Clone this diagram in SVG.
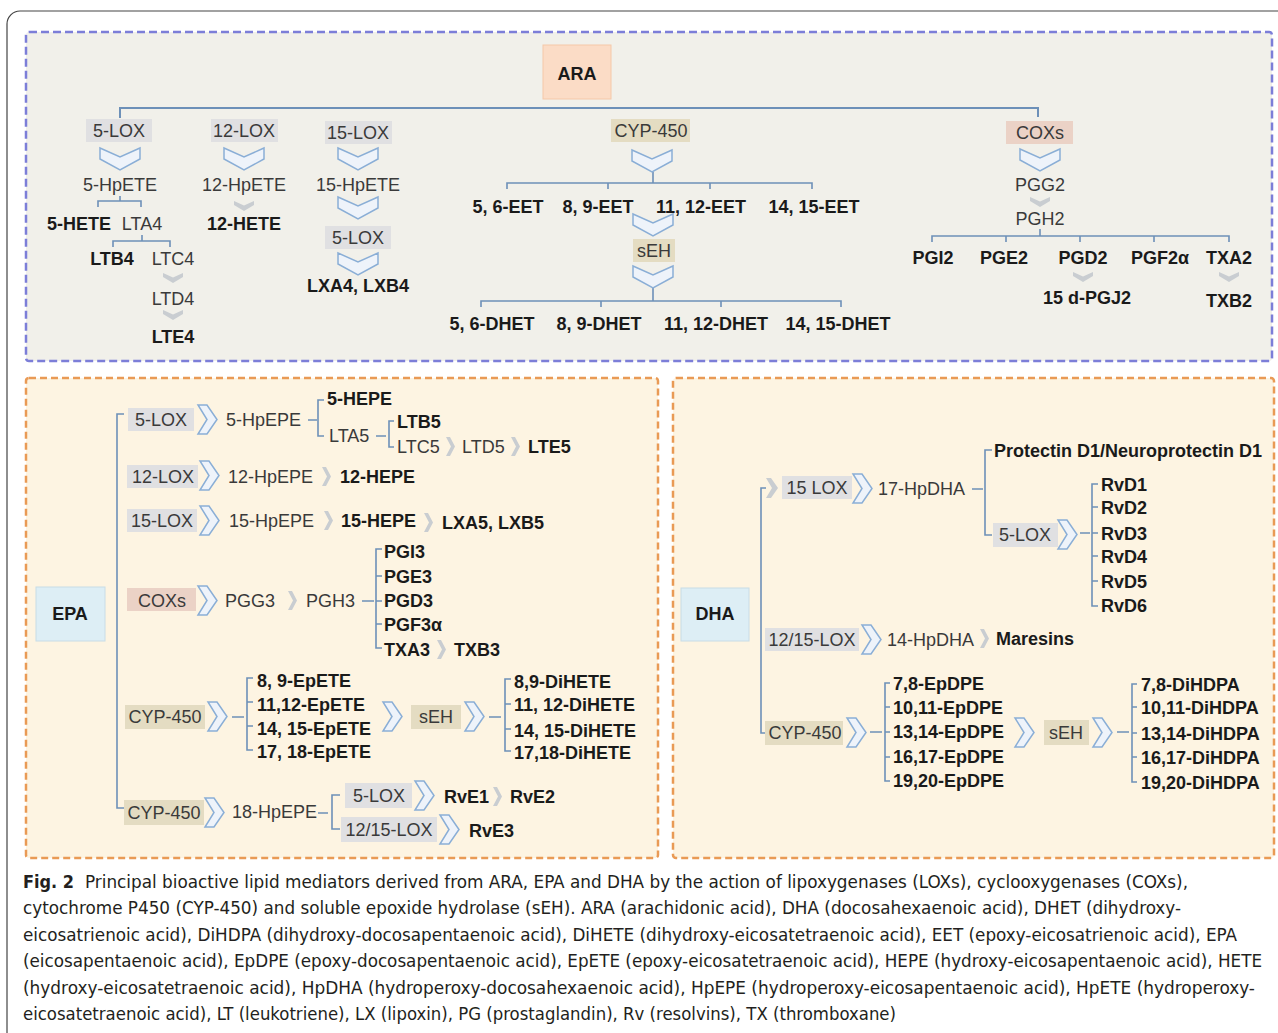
<svg xmlns="http://www.w3.org/2000/svg" xmlns:xlink="http://www.w3.org/1999/xlink" width="1278" height="1033" viewBox="0 0 1278 1033">
<style>
text{font-family:"Liberation Sans",Arial,sans-serif;font-size:18px;fill:#3a3a3a}
.b{font-weight:bold;fill:#1a1a1a}
.c{text-anchor:middle}
.ln{fill:none;stroke:#6d90b8;stroke-width:1.6}
.main{fill:none;stroke:#6d90b8;stroke-width:2}
.gray{fill:#e0e0e2}
.tan{fill:#e4dcc2}
.pink{fill:#ebd2c6}
.cap{font-family:"DejaVu Sans Condensed","Liberation Sans Narrow","Liberation Sans",sans-serif;font-size:18px;fill:#231f20}
</style>
<defs>
<polygon id="cd" points="-20,0 0,9 20,0 20,11 0,22 -20,11" fill="#eef3fa" stroke="#8aaed6" stroke-width="1.5"/>
<polygon id="cr" points="0,0 9,0 19,14.5 9,29 0,29 9,14.5" fill="#eef3fa" stroke="#8aaed6" stroke-width="1.5"/>
<polygon id="gd" points="-10,0 0,4.5 10,0 10,4 0,10 -10,4" fill="#c9cdd1"/>
<polygon id="gr" points="0,0 4,0 9,9.5 4,19 0,19 5,9.5" fill="#c9cdd1"/>
</defs>
<rect width="1278" height="1033" fill="#ffffff"/>
<path d="M1278,11 H20 A13,13 0 0 0 7,24 V1033" fill="none" stroke="#444" stroke-width="1.2"/>

<g id="panel-ara">
<rect x="26" y="32" width="1246" height="329" rx="3" fill="#f1f0ea" stroke="#7c7ed8" stroke-width="2.5" stroke-dasharray="8,4"/>
</g>
<g id="panel-epa">
<rect x="26" y="378" width="632" height="480" rx="3" fill="#fdf4e2" stroke="#e99a55" stroke-width="2.5" stroke-dasharray="7,4"/>
</g>
<g id="panel-dha">
<rect x="673" y="378" width="601" height="480" rx="3" fill="#fdf4e2" stroke="#e99a55" stroke-width="2.5" stroke-dasharray="7,4"/>
</g>

<g id="connectors">
<path class="main" d="M120,118 V108 H1038 V117"/>
<path class="ln" d="M120,196 V201 M98,207 V201 H141 V207"/>
<path class="ln" d="M142,235 V241 M113,247 V241 H170 V247"/>
<path class="ln" d="M653,172 V183 M507,189 V183 H812 V189 M608,183 V189 M710,183 V189"/>
<path class="ln" d="M653,288 V301 M481,307 V301 H841 V307 M601,301 V307 M721,301 V307"/>
<path class="ln" d="M1040,229 V236 M932,242 V236 H1229 V242 M1006,236 V242 M1080,236 V242 M1154,236 V242"/>
<path class="ln" d="M124,414 H117 V808 H125"/>
<path class="ln" d="M308,420 H317 M324,400 H318 V436 H324"/>
<path class="ln" d="M376,436 H386 M394,421 H389 V447 H394"/>
<path class="ln" d="M362,601 H374 M382,549 H376 V648 H382 M376,576 H382 M376,601 H382 M376,624 H382"/>
<path class="ln" d="M232,717 H244 M253,678 H247 V750 H253 M247,702 H253 M247,726 H253"/>
<path class="ln" d="M489,717 H501 M511,679 H505 V751 H511 M505,704 H511 M505,729 H511"/>
<path class="ln" d="M318,813 H328 M340,795 H332 V829 H340"/>
<path class="ln" d="M766,488 H761 V733 H766"/>
<path class="ln" d="M972,489 H983 M992,450 H985 V535 H992"/>
<path class="ln" d="M1080,533 H1090 M1098,484 H1092 V606 H1098 M1092,507 H1098 M1092,533 H1098 M1092,556 H1098 M1092,581 H1098"/>
<path class="ln" d="M870,732 H882 M890,683 H885 V781 H890 M885,707 H890 M885,732 H890 M885,757 H890"/>
<path class="ln" d="M1117,732 H1129 M1137,684 H1132 V782 H1137 M1132,707 H1137 M1132,733 H1137 M1132,757 H1137"/>
<use href="#cd" x="120" y="148"/><use href="#cd" x="244" y="148"/><use href="#cd" x="358" y="148"/>
<use href="#cd" x="358" y="197"/><use href="#cd" x="358" y="253"/><use href="#cd" x="652" y="150"/>
<use href="#cd" x="653" y="214"/><use href="#cd" x="653" y="266"/><use href="#cd" x="1040" y="149"/>
<use href="#gd" x="173" y="273"/><use href="#gd" x="173" y="310"/><use href="#gd" x="244" y="201"/>
<use href="#gd" x="1040" y="197"/><use href="#gd" x="1083" y="272"/><use href="#gd" x="1229" y="272"/>
<use href="#cr" x="198" y="405"/><use href="#cr" x="200" y="461"/><use href="#cr" x="200" y="506"/>
<use href="#cr" x="198" y="586"/><use href="#cr" x="208" y="702"/><use href="#cr" x="383" y="702"/>
<use href="#cr" x="465" y="702"/><use href="#cr" x="205" y="798"/><use href="#cr" x="415" y="781"/>
<use href="#cr" x="440" y="815"/>
<use href="#cr" x="853" y="474"/><use href="#cr" x="1058" y="520"/><use href="#cr" x="862" y="625"/>
<use href="#cr" x="847" y="718"/><use href="#cr" x="1015" y="718"/><use href="#cr" x="1093" y="718"/>
<use href="#gr" x="446" y="437"/><use href="#gr" x="511" y="437"/><use href="#gr" x="322" y="467"/>
<use href="#gr" x="324" y="511"/><use href="#gr" x="424" y="513"/><use href="#gr" x="288" y="591"/>
<use href="#gr" x="437" y="640"/><use href="#gr" x="493" y="787"/><use href="#gr" x="980" y="629"/>
<polygon points="766,478 771,478 778,488 771,498 766,498 772,488" fill="#c9cdd1"/>
</g>

<g id="ara"><rect x="543" y="45" width="68" height="54" fill="#fbdcc6" stroke="#f5c8a8"/><text class="b c" x="577" y="80">ARA</text></g>
<g id="ara-5lox"><rect class="gray" x="86" y="119" width="66" height="23"/><text class="c" x="119" y="137">5-LOX</text></g>
<g id="ara-12lox"><rect class="gray" x="211" y="119" width="67" height="23"/><text class="c" x="244" y="137">12-LOX</text></g>
<g id="ara-15lox"><rect class="gray" x="325" y="121" width="67" height="23"/><text class="c" x="358" y="139">15-LOX</text></g>
<g id="ara-cyp"><rect class="tan" x="611" y="119" width="79" height="23"/><text class="c" x="651" y="137">CYP-450</text></g>
<g id="ara-cox"><rect class="pink" x="1006" y="121" width="67" height="23"/><text class="c" x="1040" y="139">COXs</text></g>
<g id="hpete5"><text class="c" x="120" y="191">5-HpETE</text></g>
<g id="hpete12"><text class="c" x="244" y="191">12-HpETE</text></g>
<g id="hpete15"><text class="c" x="358" y="191">15-HpETE</text></g>
<g id="hete5"><text class="b c" x="79" y="230">5-HETE</text></g>
<g id="lta4"><text class="c" x="142" y="230">LTA4</text></g>
<g id="hete12"><text class="b c" x="244" y="230">12-HETE</text></g>
<g id="ltb4"><text class="b c" x="112" y="265">LTB4</text></g>
<g id="ltc4"><text class="c" x="173" y="265">LTC4</text></g>
<g id="ltd4"><text class="c" x="173" y="305">LTD4</text></g>
<g id="lte4"><text class="b c" x="173" y="343">LTE4</text></g>
<g id="ara-5lox-b"><rect class="gray" x="325" y="226" width="66" height="23"/><text class="c" x="358" y="244">5-LOX</text></g>
<g id="lxa4"><text class="b c" x="358" y="292">LXA4, LXB4</text></g>
<g id="eets"><text class="b c" x="508" y="213">5, 6-EET</text><text class="b c" x="598" y="213">8, 9-EET</text><text class="b c" x="701" y="213">11, 12-EET</text><text class="b c" x="814" y="213">14, 15-EET</text></g>
<g id="ara-seh"><rect class="tan" x="633" y="239" width="42" height="23"/><text class="c" x="654" y="257">sEH</text></g>
<g id="dhets"><text class="b c" x="492" y="330">5, 6-DHET</text><text class="b c" x="599" y="330">8, 9-DHET</text><text class="b c" x="716" y="330">11, 12-DHET</text><text class="b c" x="838" y="330">14, 15-DHET</text></g>
<g id="pgg2"><text class="c" x="1040" y="191">PGG2</text></g>
<g id="pgh2"><text class="c" x="1040" y="225">PGH2</text></g>
<g id="pgs2"><text class="b c" x="933" y="264">PGI2</text><text class="b c" x="1004" y="264">PGE2</text><text class="b c" x="1083" y="264">PGD2</text><text class="b c" x="1160" y="264">PGF2α</text><text class="b c" x="1229" y="264">TXA2</text></g>
<g id="pgj2"><text class="b c" x="1087" y="304">15 d-PGJ2</text></g>
<g id="txb2"><text class="b c" x="1229" y="307">TXB2</text></g>

<g id="epa"><rect x="36" y="587" width="69" height="54" fill="#ddeef5" stroke="#c8dce6"/><text class="b c" x="70" y="620">EPA</text></g>
<g id="epa-5lox"><rect class="gray" x="128" y="408" width="66" height="23"/><text class="c" x="161" y="426">5-LOX</text></g>
<g id="hpepe5"><text x="226" y="426">5-HpEPE</text></g>
<g id="hepe5"><text class="b" x="327" y="405">5-HEPE</text></g>
<g id="lta5"><text x="329" y="442">LTA5</text></g>
<g id="ltb5"><text class="b" x="397" y="428">LTB5</text></g>
<g id="ltc5"><text x="397" y="453">LTC5</text></g>
<g id="ltd5"><text x="462" y="453">LTD5</text></g>
<g id="lte5"><text class="b" x="528" y="453">LTE5</text></g>
<g id="epa-12lox"><rect class="gray" x="127" y="465" width="71" height="23"/><text class="c" x="163" y="483">12-LOX</text></g>
<g id="hpepe12"><text x="228" y="483">12-HpEPE</text></g>
<g id="hepe12"><text class="b" x="340" y="483">12-HEPE</text></g>
<g id="epa-15lox"><rect class="gray" x="127" y="509" width="70" height="23"/><text class="c" x="162" y="527">15-LOX</text></g>
<g id="hpepe15"><text x="229" y="527">15-HpEPE</text></g>
<g id="hepe15"><text class="b" x="341" y="527">15-HEPE</text></g>
<g id="lxa5"><text class="b" x="442" y="529">LXA5, LXB5</text></g>
<g id="epa-cox"><rect class="pink" x="127" y="588" width="69" height="23"/><text class="c" x="162" y="607">COXs</text></g>
<g id="pgg3"><text x="225" y="607">PGG3</text></g>
<g id="pgh3"><text x="306" y="607">PGH3</text></g>
<g id="pgs3"><text class="b" x="384" y="558">PGI3</text><text class="b" x="384" y="583">PGE3</text><text class="b" x="384" y="607">PGD3</text><text class="b" x="384" y="631">PGF3α</text><text class="b" x="384" y="656">TXA3</text></g>
<g id="txb3"><text class="b" x="454" y="656">TXB3</text></g>
<g id="epa-cyp"><rect class="tan" x="125" y="705" width="80" height="24"/><text class="c" x="165" y="723">CYP-450</text></g>
<g id="epetes"><text class="b" x="257" y="687">8, 9-EpETE</text><text class="b" x="257" y="711">11,12-EpETE</text><text class="b" x="257" y="735">14, 15-EpETE</text><text class="b" x="257" y="758">17, 18-EpETE</text></g>
<g id="epa-seh"><rect class="tan" x="411" y="705" width="50" height="24"/><text class="c" x="436" y="723">sEH</text></g>
<g id="dihetes"><text class="b" x="514" y="688">8,9-DiHETE</text><text class="b" x="514" y="711">11, 12-DiHETE</text><text class="b" x="514" y="737">14, 15-DiHETE</text><text class="b" x="514" y="759">17,18-DiHETE</text></g>
<g id="epa-cyp2"><rect class="tan" x="124" y="800" width="80" height="25"/><text class="c" x="164" y="819">CYP-450</text></g>
<g id="hpepe18"><text x="232" y="818">18-HpEPE</text></g>
<g id="epa-5lox2"><rect class="gray" x="345" y="783" width="67" height="25"/><text class="c" x="379" y="802">5-LOX</text></g>
<g id="rve1"><text class="b" x="444" y="803">RvE1</text></g>
<g id="rve2"><text class="b" x="510" y="803">RvE2</text></g>
<g id="epa-1215lox"><rect class="gray" x="341" y="817" width="96" height="25"/><text class="c" x="389" y="836">12/15-LOX</text></g>
<g id="rve3"><text class="b" x="469" y="837">RvE3</text></g>

<g id="dha"><rect x="681" y="588" width="68" height="53" fill="#ddeef5" stroke="#c8dce6"/><text class="b c" x="715" y="620">DHA</text></g>
<g id="dha-15lox"><rect class="gray" x="782" y="476" width="70" height="23"/><text class="c" x="817" y="494">15 LOX</text></g>
<g id="hpdha17"><text x="878" y="495">17-HpDHA</text></g>
<g id="protectin"><text class="b" x="994" y="457">Protectin D1/Neuroprotectin D1</text></g>
<g id="dha-5lox"><rect class="gray" x="993" y="523" width="65" height="24"/><text class="c" x="1025" y="541">5-LOX</text></g>
<g id="rvds"><text class="b" x="1101" y="491">RvD1</text><text class="b" x="1101" y="514">RvD2</text><text class="b" x="1101" y="540">RvD3</text><text class="b" x="1101" y="563">RvD4</text><text class="b" x="1101" y="588">RvD5</text><text class="b" x="1101" y="612">RvD6</text></g>
<g id="dha-1215lox"><rect class="gray" x="765" y="628" width="94" height="23"/><text class="c" x="812" y="646">12/15-LOX</text></g>
<g id="hpdha14"><text x="887" y="646">14-HpDHA</text></g>
<g id="maresins"><text class="b" x="996" y="645">Maresins</text></g>
<g id="dha-cyp"><rect class="tan" x="765" y="721" width="78" height="24"/><text class="c" x="805" y="739">CYP-450</text></g>
<g id="epdpes"><text class="b" x="893" y="690">7,8-EpDPE</text><text class="b" x="893" y="714">10,11-EpDPE</text><text class="b" x="893" y="738">13,14-EpDPE</text><text class="b" x="893" y="763">16,17-EpDPE</text><text class="b" x="893" y="787">19,20-EpDPE</text></g>
<g id="dha-seh"><rect class="tan" x="1044" y="720" width="45" height="25"/><text class="c" x="1066" y="739">sEH</text></g>
<g id="dihdpas"><text class="b" x="1141" y="691">7,8-DiHDPA</text><text class="b" x="1141" y="714">10,11-DiHDPA</text><text class="b" x="1141" y="740">13,14-DiHDPA</text><text class="b" x="1141" y="764">16,17-DiHDPA</text><text class="b" x="1141" y="789">19,20-DiHDPA</text></g>

<g id="caption">
<text class="cap" x="23" y="888" font-weight="bold" font-size="19" textLength="51" lengthAdjust="spacingAndGlyphs">Fig. 2</text>
<text class="cap" x="85" y="888" textLength="1103" lengthAdjust="spacingAndGlyphs">Principal bioactive lipid mediators derived from ARA, EPA and DHA by the action of lipoxygenases (LOXs), cyclooxygenases (COXs),</text>
<text class="cap" x="23" y="914" textLength="1158" lengthAdjust="spacingAndGlyphs">cytochrome P450 (CYP-450) and soluble epoxide hydrolase (sEH). ARA (arachidonic acid), DHA (docosahexaenoic acid), DHET (dihydroxy-</text>
<text class="cap" x="23" y="941" textLength="1214" lengthAdjust="spacingAndGlyphs">eicosatrienoic acid), DiHDPA (dihydroxy-docosapentaenoic acid), DiHETE (dihydroxy-eicosatetraenoic acid), EET (epoxy-eicosatrienoic acid), EPA</text>
<text class="cap" x="23" y="967" textLength="1239" lengthAdjust="spacingAndGlyphs">(eicosapentaenoic acid), EpDPE (epoxy-docosapentaenoic acid), EpETE (epoxy-eicosatetraenoic acid), HEPE (hydroxy-eicosapentaenoic acid), HETE</text>
<text class="cap" x="23" y="994" textLength="1232" lengthAdjust="spacingAndGlyphs">(hydroxy-eicosatetraenoic acid), HpDHA (hydroperoxy-docosahexaenoic acid), HpEPE (hydroperoxy-eicosapentaenoic acid), HpETE (hydroperoxy-</text>
<text class="cap" x="23" y="1020" textLength="873" lengthAdjust="spacingAndGlyphs">eicosatetraenoic acid), LT (leukotriene), LX (lipoxin), PG (prostaglandin), Rv (resolvins), TX (thromboxane)</text>
</g>
</svg>
